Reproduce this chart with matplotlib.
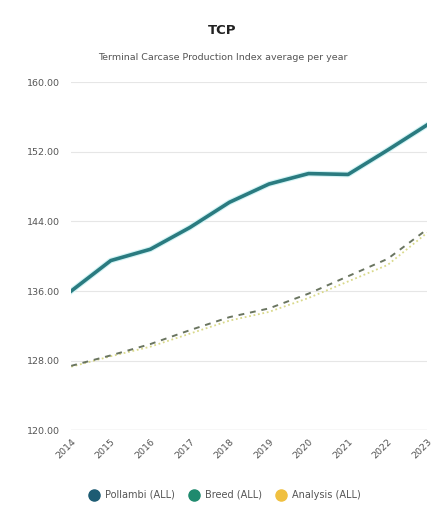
import matplotlib.pyplot as plt
from matplotlib.lines import Line2D

years = [2014, 2015, 2016, 2017, 2018, 2019, 2020, 2021, 2022, 2023]
pollambi = [136.0, 139.5, 140.8, 143.3, 146.2, 148.3, 149.5, 149.4, 152.2, 155.1]
breed = [127.4, 128.6, 129.9, 131.5, 133.0, 134.0, 135.7, 137.7, 139.7, 143.1]
analysis = [127.3, 128.5, 129.6, 131.1, 132.6, 133.6, 135.2, 137.1, 139.0, 142.7]
yticks = [120, 128, 136, 144, 152, 160]
series_names = ["Pollambi (ALL)", "Breed (ALL)", "Analysis (ALL)"]

fig = plt.figure(figsize=(4.45, 5.14), dpi=100)
ax = fig.add_axes([0.16, 0.163, 0.80, 0.677])

ax.plot(years, pollambi, color="#d2f4f5", lw=4.2, zorder=3)   # faint glow
ax.plot(years, pollambi, color="#2a7b80", lw=2.6, zorder=4)
ax.plot(years, analysis, color="#d9d98a", lw=1.3, ls=(0, (1, 1.5)), zorder=3)
ax.plot(years, breed, color="#6a7560", lw=1.4, ls=(0, (3, 3)), zorder=3)

ax.set_ylim(120, 160)
ax.set_xlim(2014, 2023)
ax.set_yticks(yticks)
ax.set_yticklabels([f"{v:.2f}" for v in yticks])
ax.set_xticks(years)
ax.set_xticklabels([str(y) for y in years], rotation=45, ha="right", rotation_mode="anchor")
ax.grid(axis="y", color="#e6e6e6", lw=0.8)
ax.set_axisbelow(True)
for s in ax.spines.values():
    s.set_visible(False)
ax.axhline(120, color="#d0d0d0", lw=0.9, zorder=2)
ax.tick_params(length=0, labelsize=6.8, labelcolor="#555555", pad=8)
ax.tick_params(axis="x", pad=5)

fig.text(0.5, 0.94, "TCP", ha="center", va="center", fontsize=9.5, fontweight="bold", color="#222222")
fig.text(0.5, 0.889, "Terminal Carcase Production Index average per year", ha="center", va="center",
         fontsize=6.8, color="#555555")

handles = [Line2D([], [], marker="o", ls="", markersize=8, color=c) for c in ["#1d5c73", "#1f8a6e", "#f0c040"]]
fig.legend(handles, series_names, loc="center", bbox_to_anchor=(0.5, 0.037), ncol=3, frameon=False,
           fontsize=7, labelcolor="#555555", handletextpad=0.1, columnspacing=1.0)

fig.savefig("out.png", dpi=100, facecolor="white")
